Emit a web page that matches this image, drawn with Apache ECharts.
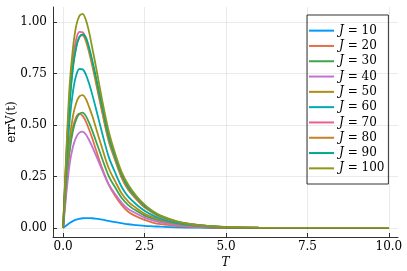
<!DOCTYPE html>
<html><head><meta charset="utf-8">
<script src="https://cdn.jsdelivr.net/npm/echarts@6/dist/echarts.min.js"></script>
<style>html,body{margin:0;padding:0;background:#fff}#c{width:407px;height:271px}</style>
</head><body><div id="c"></div>
<script>
const T = [0, 0.1, 0.2, 0.3, 0.4, 0.5, 0.6, 0.7, 0.8, 0.9, 1.0, 1.2, 1.4, 1.6, 1.8, 2.0, 2.25, 2.5, 2.75, 3.0, 3.5, 4.0, 4.5, 5.0, 6.0, 7.0, 8.0, 9.0, 10.0];
const J10 = [0, 0.012, 0.024, 0.033, 0.04, 0.044, 0.047, 0.048, 0.048, 0.047, 0.045, 0.04, 0.034, 0.028, 0.023, 0.018, 0.014, 0.01, 0.008, 0.006, 0.003, 0.0015, 0.0008, 0.0004, 0.0001, 0, 0, 0, 0];
const J20 = [0, 0.211, 0.389, 0.488, 0.538, 0.555, 0.544, 0.516, 0.477, 0.433, 0.383, 0.289, 0.211, 0.155, 0.111, 0.079, 0.056, 0.039, 0.026, 0.018, 0.009, 0.005, 0.002, 0.001, 0.0002, 0, 0, 0, 0];
const J30 = [0, 0.202, 0.37, 0.47, 0.526, 0.554, 0.56, 0.543, 0.51, 0.47, 0.426, 0.336, 0.252, 0.196, 0.145, 0.111, 0.083, 0.06, 0.045, 0.033, 0.017, 0.0095, 0.005, 0.0024, 0.0006, 0, 0, 0, 0];
const J40 = [0, 0.168, 0.309, 0.393, 0.44, 0.463, 0.468, 0.454, 0.426, 0.393, 0.356, 0.281, 0.211, 0.164, 0.122, 0.092, 0.07, 0.05, 0.037, 0.027, 0.014, 0.008, 0.004, 0.002, 0.0005, 0, 0, 0, 0];
const J50 = [0, 0.232, 0.426, 0.542, 0.606, 0.639, 0.645, 0.626, 0.587, 0.542, 0.49, 0.387, 0.29, 0.226, 0.167, 0.128, 0.096, 0.069, 0.051, 0.037, 0.02, 0.011, 0.0058, 0.0027, 0.0006, 0, 0, 0, 0];
const J60 = [0, 0.285, 0.52, 0.66, 0.74, 0.772, 0.77, 0.745, 0.70, 0.645, 0.585, 0.46, 0.345, 0.268, 0.199, 0.152, 0.114, 0.083, 0.061, 0.044, 0.023, 0.013, 0.007, 0.0032, 0.0007, 0, 0, 0, 0];
const J70 = [0, 0.355, 0.645, 0.82, 0.915, 0.952, 0.95, 0.92, 0.865, 0.80, 0.725, 0.57, 0.428, 0.333, 0.247, 0.188, 0.142, 0.102, 0.075, 0.054, 0.029, 0.016, 0.0086, 0.0041, 0.0009, 0, 0, 0, 0];
const J80 = [0, 0.337, 0.617, 0.785, 0.879, 0.926, 0.935, 0.907, 0.851, 0.785, 0.711, 0.561, 0.421, 0.328, 0.243, 0.185, 0.139, 0.1, 0.074, 0.053, 0.029, 0.016, 0.0085, 0.0039, 0.0009, 0, 0, 0, 0];
const J90 = [0, 0.32, 0.60, 0.775, 0.875, 0.928, 0.94, 0.925, 0.875, 0.81, 0.74, 0.59, 0.445, 0.345, 0.26, 0.198, 0.149, 0.108, 0.079, 0.057, 0.03, 0.017, 0.009, 0.0043, 0.0009, 0, 0, 0, 0];
const J100 = [0, 0.37, 0.69, 0.87, 0.98, 1.03, 1.04, 1.01, 0.95, 0.87, 0.79, 0.62, 0.47, 0.36, 0.27, 0.21, 0.155, 0.113, 0.082, 0.06, 0.032, 0.017, 0.009, 0.0045, 0.001, 0, 0, 0, 0];
const seriesNames = ['J = 10', 'J = 20', 'J = 30', 'J = 40', 'J = 50', 'J = 60', 'J = 70', 'J = 80', 'J = 90', 'J = 100'];
const seriesValues = [J10, J20, J30, J40, J50, J60, J70, J80, J90, J100];
const colors = ['#009AFA', '#E36F47', '#3EA44E', '#C371D2', '#AC8E18', '#00AAAE', '#ED5E93', '#C68225', '#00A98D', '#8E971D'];
const xTicks = [0, 2.5, 5, 7.5, 10];
const yTicks = [0, 0.25, 0.5, 0.75, 1.0];
const xLabel = 'T';
const yLabel = 'errV(t)';

const FONT = 'DejaVu Serif';
const chart = echarts.init(document.getElementById('c'), null, {renderer: 'canvas'});
const series = seriesNames.map((n, k) => ({
  name: n, type: 'line', data: T.map((t, i) => [t, seriesValues[k][i]]),
  smooth: 0.3, showSymbol: false, symbol: 'none', z: 3,
  lineStyle: {width: 1.8, color: colors[k]}, itemStyle: {color: colors[k]}
}));
series.unshift({
  name: '__grid', type: 'line', data: [], z: 1, silent: true,
  markLine: {
    silent: true, symbol: ['none', 'none'], label: {show: false},
    lineStyle: {color: 'rgba(0,0,0,0.08)', width: 1, type: 'solid'},
    data: xTicks.map(v => ({xAxis: v})).concat(yTicks.map(v => ({yAxis: v})))
  }
});
chart.setOption({
  animation: false,
  backgroundColor: '#fff',
  grid: {left: 53, right: 9, top: 7, bottom: 34, containLabel: false, outerBoundsMode: 'none'},
  xAxis: {
    type: 'value', min: -0.31, max: 10.28,
    name: xLabel, nameLocation: 'middle', nameGap: 20, nameMoveOverlap: false,
    nameTextStyle: {fontFamily: FONT, fontStyle: 'italic', fontSize: 12, color: '#000'},
    axisLine: {onZero: false, lineStyle: {color: '#333', width: 1}},
    axisTick: {inside: true, length: 4, customValues: xTicks, lineStyle: {color: '#333'}},
    axisLabel: {customValues: xTicks, margin: 4, fontFamily: FONT, fontSize: 12, color: '#000', formatter: v => v.toFixed(1)},
    splitLine: {show: false}
  },
  yAxis: {
    type: 'value', min: -0.044, max: 1.073,
    name: yLabel, nameLocation: 'middle', nameGap: 35, nameRotate: 90, nameMoveOverlap: false,
    nameTextStyle: {fontFamily: FONT, fontSize: 12, color: '#000'},
    axisLine: {onZero: false, lineStyle: {color: '#333', width: 1}},
    axisTick: {inside: true, length: 4, customValues: yTicks, lineStyle: {color: '#333'}},
    axisLabel: {customValues: yTicks, margin: 6, fontFamily: FONT, fontSize: 12, color: '#000', formatter: v => v.toFixed(2)},
    splitLine: {show: false}
  },
  legend: {
    data: seriesNames, orient: 'vertical', left: 307, top: 15,
    padding: [8, 4, 8, 2], itemGap: 0, itemWidth: 25, itemHeight: 2, icon: 'rect',
    borderColor: '#333', borderWidth: 1, backgroundColor: '#fff',
    formatter: n => '{i|J} = ' + n.split('= ')[1],
    textStyle: {fontFamily: FONT, fontSize: 12, color: '#000', lineHeight: 15.3,
      rich: {i: {fontFamily: FONT, fontStyle: 'italic', fontSize: 12, color: '#000', lineHeight: 15.3}}}
  },
  series: series
});
</script></body></html>
